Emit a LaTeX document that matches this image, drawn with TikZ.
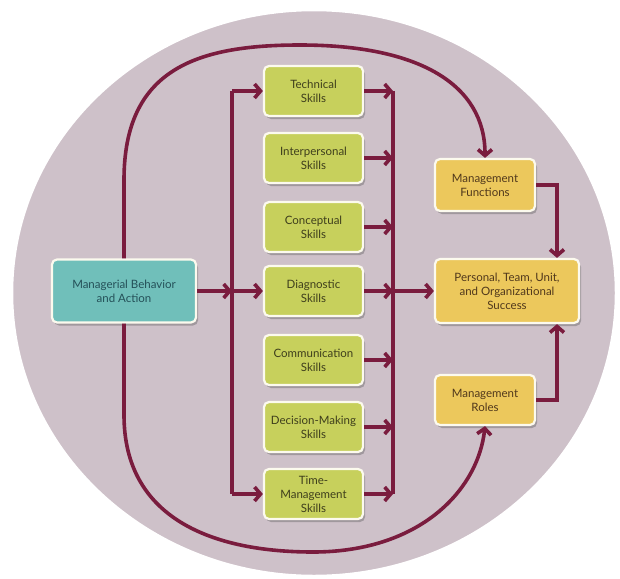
\documentclass[tikz,border=0pt]{standalone}
\usepackage{fontspec}
\setmainfont{Lato}
\usetikzlibrary{arrows.meta,shadows}
\definecolor{bgc}{RGB}{206,193,201}
\definecolor{arrc}{RGB}{122,28,62}
\definecolor{greenf}{RGB}{199,208,92}
\definecolor{tealf}{RGB}{112,191,186}
\definecolor{goldf}{RGB}{236,200,92}
\definecolor{greent}{RGB}{62,62,28}
\definecolor{tealt}{RGB}{36,80,88}
\definecolor{goldt}{RGB}{80,56,28}
\definecolor{rimc}{RGB}{252,250,238}
\tikzset{
  boxbase/.style={rounded corners=5pt, draw=rimc, line width=2.2pt, align=center,
    inner sep=2pt, font=\fontsize{11.5}{14}\selectfont,
    drop shadow={shadow xshift=2pt, shadow yshift=-3pt, opacity=0.35, fill=black!70}},
  skillbox/.style={boxbase, fill=greenf, text=greent, minimum width=99pt, minimum height=50pt},
  tealbox/.style={boxbase, fill=tealf, text=tealt, minimum width=144pt, minimum height=63pt},
  goldbox/.style={boxbase, fill=goldf, text=goldt},
  conn/.style={draw=arrc, line width=3.6pt},
  arr/.style={conn, -{Straight Barb[length=6pt,width=14pt]}},
}
\begin{document}
\begin{tikzpicture}[x=1pt,y=-1pt]
\useasboundingbox (0,0) rectangle (620,578);
\fill[white] (0,0) rectangle (620,578);
\draw[fill=bgc, draw=white, line width=2.5pt] (314,293) ellipse [x radius=302, y radius=283];

\node[tealbox] (mba) at (124,291) {Managerial Behavior\\and Action};
\node[skillbox] (s1) at (313.5,91) {Technical\\Skills};
\node[skillbox] (s2) at (313.5,158) {Interpersonal\\Skills};
\node[skillbox] (s3) at (313.5,227) {Conceptual\\Skills};
\node[skillbox] (s4) at (313.5,291) {Diagnostic\\Skills};
\node[skillbox] (s5) at (313.5,360) {Communication\\Skills};
\node[skillbox] (s6) at (313.5,427) {Decision-Making\\Skills};
\node[skillbox] (s7) at (313.5,494) {Time-\\Management\\Skills};
\node[goldbox, minimum width=100pt, minimum height=52pt] (fun) at (485,185) {Management\\Functions};
\node[goldbox, minimum width=144pt, minimum height=64pt] (succ) at (507,291) {Personal, Team, Unit,\\and Organizational\\Success};
\node[goldbox, minimum width=100pt, minimum height=50pt] (roles) at (485,400) {Management\\Roles};

\coordinate (L) at (232,291);
\coordinate (R) at (393,291);
\coordinate (J) at (557,291);

% left bus
\draw[conn] (L |- s1) -- (L |- s7);
\draw[arr] (mba.east) -- (L);
\draw[arr] (L) -- (s4.west);
\draw[arr] (L |- s1) -- (s1.west);
\draw[arr] (L |- s7) -- (s7.west);

% right bus
\draw[conn] (R |- s1) -- (R |- s7);
\foreach \s in {s1,s2,s3,s4,s5,s6,s7}{
  \draw[arr] (\s.east) -- (R |- \s);
}
\draw[arr] (R) -- (succ.west);

% functions / roles to success
\draw[arr] (fun.east) -| (J |- succ.north);
\draw[arr] (roles.east) -| (J |- succ.south);

% big loops
\draw[arr] (mba.north) -- (124,180) .. controls (124,70) and (195,45) .. (300,45)
  .. controls (420,45) and (485,85) .. (fun.north);
\draw[arr] (mba.south) -- (124,415) .. controls (124,520) and (215,552) .. (313,552)
  .. controls (420,552) and (478,490) .. (roles.south);
\end{tikzpicture}
\end{document}
